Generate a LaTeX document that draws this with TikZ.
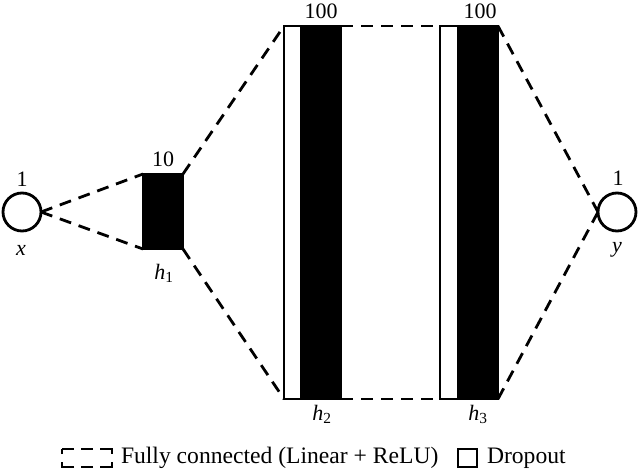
\documentclass[tikz,border=0pt]{standalone}
\usepackage{fontspec}
\setmainfont{Liberation Serif}
\newcommand{\hsub}[1]{\textit{h}\textsubscript{#1}}
\begin{document}
\begin{tikzpicture}[x=1pt,y=-1pt,
  every node/.style={inner sep=0pt,outer sep=0pt,font=\fontsize{22}{26}\selectfont},
  neuron/.style={circle,draw,line width=2.8pt,minimum size=38pt},
  blk/.style={rectangle,draw,line width=2.8pt},
  fc/.style={line width=2.8pt,dash pattern=on 12pt off 8pt},
  lbl/.style={},
  legtext/.style={anchor=west,font=\fontsize{23.6}{28}\selectfont}]
\useasboundingbox (0,0) rectangle (640,473);
% neurons
\node[neuron] (x) at (22,212) {};
\node[neuron] (y) at (617,212) {};
% h1
\node[blk,fill=black,minimum width=40pt,minimum height=75pt] (h1) at (163,211.5) {};
% h2
\node[blk,fill=white,minimum width=57pt,minimum height=373pt] (h2) at (312.5,212.5) {};
\node[blk,fill=black,minimum width=40pt,minimum height=373pt] (h2b) at (321,212.5) {};
% h3
\node[blk,fill=white,minimum width=58pt,minimum height=373pt] (h3) at (469,212.5) {};
\node[blk,fill=black,minimum width=40pt,minimum height=373pt] (h3b) at (478,212.5) {};
% connectors
\draw[fc] (x.east) -- (h1.north west);
\draw[fc] (x.east) -- (h1.south west);
\draw[fc] (h1.north east) -- (h2.north west);
\draw[fc] (h1.south east) -- (h2.south west);
\draw[fc] (h2b.north east) -- (h3.north west);
\draw[fc] (h2b.south east) -- (h3.south west);
\draw[fc] (h3b.north east) -- (y.west);
\draw[fc] (h3b.south east) -- (y.west);
% labels
\node[lbl] (lx1) at (22,179) {1};
\node[lbl] (lx) at (21,250) {\textit{x}};
\node[lbl] (ly1) at (618,178) {1};
\node[lbl] (ly) at (617,250) {\textit{y}};
\node[lbl] (lh1n) at (163,159) {10};
\node[lbl] (lh1) at (164,273) {\hsub{1}};
\node[lbl] (lh2n) at (321,11) {100};
\node[lbl] (lh2) at (322,414) {\hsub{2}};
\node[lbl] (lh3n) at (480,11) {100};
\node[lbl] (lh3) at (478,414) {\hsub{3}};
% legend
\node[rectangle,minimum width=50pt,minimum height=18pt] (legfc) at (87,458) {};
\draw[line width=2.8pt,dash pattern=on 12pt off 7pt on 12pt off 7pt on 17pt off 8pt on 17pt off 7pt on 12pt off 7pt on 17pt off 8pt on 5pt]
  (legfc.north west) -- (legfc.north east) -- (legfc.south east) -- (legfc.south west) -- cycle;
\node[legtext] (legfct) at (121,458) {Fully connected (Linear + ReLU)};
\node[blk,minimum width=19pt,minimum height=18pt] (legdo) at (467.5,458) {};
\node[legtext] (legdot) at (487,458) {Dropout};
\end{tikzpicture}
\end{document}
